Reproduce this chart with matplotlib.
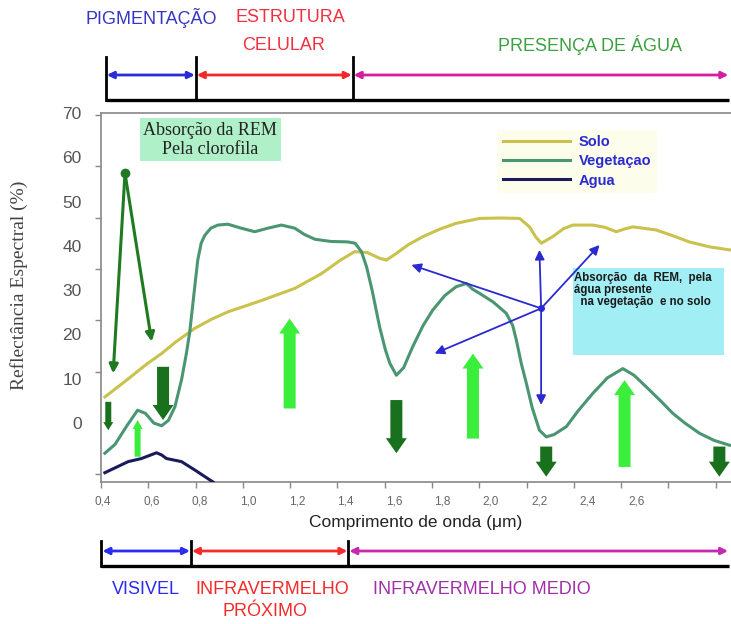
import matplotlib as mpl
import matplotlib.pyplot as plt
import matplotlib.transforms as mtransforms
from matplotlib.patches import Rectangle
from matplotlib.ticker import FixedLocator
import numpy as np

mpl.rcParams["font.family"] = ["Liberation Sans", "DejaVu Sans"]

# curves: wavelength (um) and spectral reflectance (%)
veg_x = [0.408, 0.45, 0.50, 0.543, 0.575, 0.61, 0.642, 0.67, 0.697, 0.725,
         0.745, 0.758, 0.775, 0.791, 0.805, 0.820, 0.845, 0.874, 0.915, 0.97,
         1.026, 1.08, 1.136, 1.191, 1.23, 1.274, 1.34, 1.410, 1.440, 1.466,
         1.487, 1.51, 1.541, 1.565, 1.583, 1.610, 1.64, 1.677, 1.72, 1.760,
         1.81, 1.857, 1.899, 1.925, 1.953, 2.01, 2.063, 2.09, 2.105, 2.125,
         2.146, 2.17, 2.200, 2.228, 2.26, 2.311, 2.36, 2.420, 2.48, 2.544,
         2.59, 2.640, 2.70, 2.750, 2.80, 2.860, 2.92, 2.984]
veg_y = [-6.8, -4.8, -0.5, 2.9, 2.2, 0.0, -0.6, 0.6, 3.7, 10.0,
         16.0, 20.6, 29.0, 36.8, 40.6, 42.4, 44.0, 44.7, 44.9, 44.0,
         43.2, 44.0, 44.7, 44.0, 42.6, 41.5, 41.0, 40.9, 40.6, 38.7,
         35.3, 30.0, 21.7, 16.5, 13.5, 10.8, 12.5, 17.2, 22.0, 25.5,
         28.8, 30.8, 31.5, 30.2, 29.3, 27.3, 24.8, 22.0, 18.7, 13.5,
         9.0, 3.5, -1.6, -3.1, -2.6, -0.8, 2.8, 6.7, 10.2, 12.3,
         10.8, 8.2, 5.0, 2.2, 0.0, -2.3, -3.9, -5.0]

solo_x = [0.408, 0.50, 0.58, 0.642, 0.70, 0.779, 0.85, 0.915, 1.05, 1.191,
          1.30, 1.38, 1.438, 1.49, 1.541, 1.569, 1.610, 1.66, 1.720, 1.79,
          1.857, 1.953, 2.04, 2.118, 2.159, 2.185, 2.208, 2.23, 2.255, 2.30,
          2.338, 2.420, 2.47, 2.517, 2.55, 2.585, 2.681, 2.75, 2.818, 2.90, 2.984]
solo_y = [5.9, 9.8, 13.3, 15.7, 18.3, 21.4, 23.5, 25.1, 27.6, 30.4,
          33.7, 36.8, 38.7, 38.5, 37.2, 36.8, 38.3, 40.3, 42.1, 43.8,
          45.1, 46.2, 46.3, 46.2, 44.3, 42.0, 40.6, 41.3, 42.1, 43.9,
          44.7, 44.7, 44.2, 43.2, 43.8, 44.3, 43.6, 42.3, 40.9, 39.8, 39.1]

agua_x = [0.408, 0.504, 0.559, 0.621, 0.642, 0.662, 0.724, 0.779, 0.854]
agua_y = [-11.2, -8.7, -8.0, -6.7, -7.2, -8.0, -8.7, -10.6, -13.3]

# chlorophyll absorption marker and its two arrows
cloro_pt = (0.491, 56.4)
cloro_tips = [(0.442, 11.2), (0.601, 18.4)]

# thick arrows: x, tail, tip
down_x = [0.422, 0.648, 1.610, 2.228, 2.942]
down_tail = [4.8, 12.7, 5.2, -5.3, -5.3]
down_tip = [-1.6, 0.7, -6.8, -12.1, -12.1]
up_x = [0.543, 1.170, 1.926, 2.551]
up_tail = [-7.6, 3.3, -3.5, -9.9]
up_tip = [0.7, 23.6, 15.7, 9.7]

# water absorption arrows
agua_center = (2.207, 25.9)
agua_tips = [(1.672, 35.7), (2.200, 39.1), (2.448, 40.2), (1.768, 15.7), (2.207, 4.1)]

xtick_vals = [0.4, 0.6, 0.8, 1.0, 1.2, 1.4, 1.6, 1.8, 2.0, 2.2, 2.4, 2.6]
xtick_labels = ["0,4", "0,6", "0,8", "1,0", "1,2", "1,4", "1,6", "1,8", "2,0", "2,2", "2,4", "2,6"]
ytick_vals = [0, 10, 20, 30, 40, 50, 60, 70]

# band brackets
top_bounds = [0.412, 0.783, 1.430, 2.983]
top_colors = ["#2b2bd8", "#f02828", "#d41ea2"]
bot_bounds = [0.394, 0.763, 1.412, 2.982]
bot_colors = ["#2b2bf0", "#f52a2a", "#c62aac"]

PX_X = 242.7  # px per um
PX_Y = 4.43   # px per %

fig = plt.figure(figsize=(7.31, 6.24), dpi=100)
ax = fig.add_axes([101 / 731, 1 - 482 / 624, 630 / 731, 369 / 624])

ax.plot(solo_x, solo_y, color="#c9c24c", lw=2.2, label="Solo", zorder=3)
ax.plot(veg_x, veg_y, color="#4a9672", lw=2.2, label="Vegetaçao", zorder=3)
ax.plot(agua_x, agua_y, color="#1b1b5c", lw=2.2, label="Agua", zorder=3)

ax.set_xlim(0.392, 2.99)
ax.set_ylim(-13.3, 70)

# chlorophyll annotation
ax.plot(*cloro_pt, "o", color="#1f7a22", ms=6, zorder=4)
for tip in cloro_tips:
    ax.annotate("", xy=tip, xytext=cloro_pt,
                arrowprops=dict(arrowstyle="-|>", color="#1f7a22", lw=2.2,
                                mutation_scale=13, shrinkA=0, shrinkB=0))

big = dict(shaft=12, head=21, hl=15)
for i, (x, t0, t1) in enumerate(zip(down_x, down_tail, down_tip)):
    s = dict(shaft=6, head=10, hl=8) if i == 0 else big
    ax.arrow(x, t0, 0, t1 - t0, width=s["shaft"] / PX_X, head_width=s["head"] / PX_X,
             head_length=s["hl"] / PX_Y, length_includes_head=True,
             color="#1a711d", lw=0, zorder=5)
for i, (x, t0, t1) in enumerate(zip(up_x, up_tail, up_tip)):
    s = dict(shaft=6, head=10, hl=9) if i == 0 else big
    ax.arrow(x, t0, 0, t1 - t0, width=s["shaft"] / PX_X, head_width=s["head"] / PX_X,
             head_length=s["hl"] / PX_Y, length_includes_head=True,
             color="#3cee3c", lw=0, zorder=5)

# water absorption box and arrows
ax.add_patch(Rectangle((2.337, 15.3), 0.626, 19.7, fc="#a2eef5", ec="none", zorder=1))
ax.text(2.343, 34.2, "Absorção  da  REM,  pela\nágua presente\n  na vegetação  e no solo",
        fontsize=8.3, weight="bold", color="#1a1a1a", va="top", ha="left",
        linespacing=1.05, zorder=2)
for tip in agua_tips:
    ax.annotate("", xy=tip, xytext=agua_center,
                arrowprops=dict(arrowstyle="-|>", color="#2a2ad0", lw=1.3,
                                mutation_scale=14, shrinkA=0, shrinkB=0), zorder=6)
ax.plot(*agua_center, "o", color="#2a2ad0", ms=4, zorder=6)

ax.text(0.843, 64.0, "Absorção da REM\nPela clorofila", family=["Liberation Serif"],
        fontsize=13, color="#222", ha="center", va="center", linespacing=1.15,
        bbox=dict(boxstyle="square,pad=0.2", fc="#b0f0c8", ec="none"))

leg = ax.legend(loc="upper left", bbox_to_anchor=(0.617, 0.975), handlelength=4.6,
                handletextpad=0.6, labelspacing=0.35, frameon=True,
                prop=dict(weight="bold", size=10.5), labelcolor="#2a2ad0")
leg.get_frame().set_facecolor("#fdfdec")
leg.get_frame().set_edgecolor("none")
leg.get_frame().set_alpha(1)

# axes styling
for side in ["left", "bottom", "top"]:
    ax.spines[side].set_color("#888")
    ax.spines[side].set_linewidth(1.2)
ax.spines["right"].set_visible(False)

ax.set_xticks(xtick_vals)
ax.set_xticklabels(xtick_labels)
ax.set_yticks(ytick_vals)
ax.xaxis.set_minor_locator(FixedLocator(0.392 + 0.195 * np.arange(14)))
ax.yaxis.set_minor_locator(FixedLocator(11.6 * np.arange(-1, 7)))
ax.tick_params(axis="x", which="major", length=0, pad=10, labelsize=8.5, labelcolor="#666")
ax.tick_params(axis="y", which="major", length=0, pad=14, labelsize=12.5, labelcolor="#555")
ax.tick_params(which="minor", length=4, color="#888", width=1)

ax.set_xlabel("Comprimento de onda (μm)", fontsize=12.5, color="#222")
ax.xaxis.set_label_coords(0.5, -0.09)
ax.set_ylabel("Reflectância Espectral (%)", family=["Liberation Serif"], fontsize=14, color="#444")
ax.yaxis.set_label_coords(-0.116, 0.534)

# band brackets above and below the plot
tr = mtransforms.blended_transform_factory(ax.transData, fig.transFigure)


def bracket(bounds, colors, y_base, y_top, y_arrow):
    ax.plot([bounds[0], bounds[-1]], [y_base, y_base], color="black", lw=2.4,
            transform=tr, clip_on=False, solid_capstyle="butt")
    for b in bounds[:-1]:
        ax.plot([b, b], [y_base, y_top], color="black", lw=2, transform=tr, clip_on=False)
    for a, b, c in zip(bounds[:-1], bounds[1:], colors):
        ax.annotate("", xy=(b - 0.004, y_arrow), xytext=(a + 0.004, y_arrow),
                    xycoords=tr, textcoords=tr,
                    arrowprops=dict(arrowstyle="<|-|>", color=c, lw=2,
                                    mutation_scale=10, shrinkA=0, shrinkB=0))


bracket(top_bounds, top_colors, 1 - 100 / 624, 1 - 57 / 624, 1 - 75 / 624)
bracket(bot_bounds, bot_colors, 1 - 566 / 624, 1 - 541 / 624, 1 - 551 / 624)

top_texts = [("PIGMENTAÇÃO", 0.598, 18, "#3535c0"), ("ESTRUTURA", 1.171, 18, "#f03040"),
             ("CELULAR", 1.146, 45, "#f03040"), ("PRESENÇA DE ÁGUA", 2.407, 45, "#3ca040")]
bot_texts = [("VISIVEL", 0.577, 590, "#2a2af0"), ("INFRAVERMELHO", 1.100, 590, "#f52a2a"),
             ("PRÓXIMO", 1.067, 612, "#f52a2a"), ("INFRAVERMELHO MEDIO", 1.962, 590, "#a030a8")]
for s, x, ypx, c in top_texts + bot_texts:
    ax.text(x, 1 - ypx / 624, s, transform=tr, fontsize=13,
            color=c, ha="center", va="center", clip_on=False)

fig.savefig("out.png", dpi=100)
